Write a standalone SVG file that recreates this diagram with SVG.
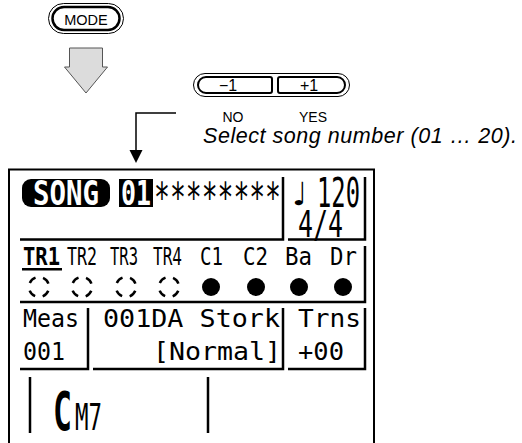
<svg xmlns="http://www.w3.org/2000/svg" width="522" height="443" viewBox="0 0 522 443">
<style>
.sans{font-family:"Liberation Sans",Arial,sans-serif;fill:#000}
.lcd{font-family:"DejaVu Sans Mono","Liberation Mono",monospace;fill:#000}
.inv{fill:#fff;font-weight:bold}
.box{fill:none;stroke:#000;stroke-width:2.5}
.hol{fill:none;stroke:#000;stroke-width:2.5;stroke-dasharray:8 7.71;stroke-dashoffset:11.86}
.ful{fill:#000}
</style>
<rect width="522" height="443" fill="#fff"/>
<g id="connectors">
<path d="M69.5,48 H102.5 V67 H107.5 L86,93 L64.5,67 H69.5 Z" fill="#dcdcdc" stroke="#555" stroke-width="1"/>
<path d="M176,113 H136 V151" fill="none" stroke="#000" stroke-width="1.5"/>
<polygon points="129.5,150 142.5,150 136,163" fill="#000"/>
</g>
<g id="mode-button">
<rect x="48.5" y="3.5" width="75" height="30" rx="15" fill="none" stroke="#000" stroke-width="1"/>
<rect x="52.5" y="7" width="67" height="23" rx="11.5" fill="none" stroke="#000" stroke-width="2.5"/>
<text class="sans" x="86" y="25" font-size="14.5" text-anchor="middle">MODE</text>
</g>
<g id="inc-dec-buttons">
<rect x="193.5" y="73.5" width="156" height="23" rx="11.5" fill="none" stroke="#000" stroke-width="1"/>
<path d="M206,77 H270 Q272,77 272,79 V91 Q272,93 270,93 H206 A8,8 0 0 1 206,77 Z" fill="none" stroke="#000" stroke-width="2"/>
<path d="M280,77 H337 A8,8 0 0 1 337,93 H280 Q278,93 278,91 V79 Q278,77 280,77 Z" fill="none" stroke="#000" stroke-width="2"/>
<text class="sans" x="228" y="91" font-size="16" text-anchor="middle">−1</text>
<text class="sans" x="309" y="91" font-size="16" text-anchor="middle">+1</text>
<text class="sans" x="233" y="122" font-size="14" text-anchor="middle">NO</text>
<text class="sans" x="313" y="122" font-size="14" text-anchor="middle">YES</text>
</g>
<g id="caption">
<text class="sans" x="203" y="143" font-size="21.5" font-style="italic" textLength="314" lengthAdjust="spacing">Select song number (01 … 20).</text>
</g>
<g id="lcd">
<path d="M9,445 V169.5 H374 V445" fill="none" stroke="#000" stroke-width="2"/>
<rect x="22" y="179" width="88" height="28" rx="9" fill="#000"/>
<text class="lcd inv" x="33" y="205" font-size="33" textLength="66" lengthAdjust="spacingAndGlyphs">SONG</text>
<rect x="119" y="179" width="34" height="28" fill="#000"/>
<text class="lcd inv" x="121" y="205" font-size="33" textLength="30" lengthAdjust="spacingAndGlyphs">01</text>
<text class="lcd" x="154" y="212" font-size="40" textLength="127" lengthAdjust="spacingAndGlyphs">********</text>
<text x="292" y="205" font-size="32" font-family="DejaVu Sans,sans-serif">♩</text>
<text class="lcd" x="317" y="207" font-size="40" textLength="43" lengthAdjust="spacingAndGlyphs">120</text>
<text class="lcd" x="298" y="237" font-size="37" textLength="45" lengthAdjust="spacingAndGlyphs">4/4</text>
<path class="box" d="M20,239.5 H283 V177 M288,239.5 H365 V177"/>
<text class="lcd" x="23" y="265" font-size="24" font-weight="bold" textLength="37" lengthAdjust="spacingAndGlyphs">TR1</text>
<text class="lcd" x="67" y="265" font-size="24" textLength="30" lengthAdjust="spacingAndGlyphs">TR2</text>
<text class="lcd" x="110" y="265" font-size="24" textLength="28" lengthAdjust="spacingAndGlyphs">TR3</text>
<text class="lcd" x="153" y="265" font-size="24" textLength="29" lengthAdjust="spacingAndGlyphs">TR4</text>
<text class="lcd" x="200" y="265" font-size="24" textLength="23" lengthAdjust="spacingAndGlyphs">C1</text>
<text class="lcd" x="243" y="265" font-size="24" textLength="25" lengthAdjust="spacingAndGlyphs">C2</text>
<text class="lcd" x="285" y="265" font-size="24" textLength="27" lengthAdjust="spacingAndGlyphs">Ba</text>
<text class="lcd" x="330" y="265" font-size="24" textLength="27" lengthAdjust="spacingAndGlyphs">Dr</text>
<rect x="22" y="268" width="40" height="2.5" fill="#000"/>
<circle class="hol" cx="39" cy="287" r="10"/>
<circle class="hol" cx="82" cy="287" r="10"/>
<circle class="hol" cx="126" cy="287" r="10"/>
<circle class="hol" cx="169" cy="287" r="10"/>
<circle class="ful" cx="211" cy="287" r="9"/>
<circle class="ful" cx="256" cy="287" r="9"/>
<circle class="ful" cx="299" cy="287" r="9"/>
<circle class="ful" cx="343" cy="287" r="9"/>
<path class="box" d="M20,302 H365 V246"/>
<text class="lcd" x="23" y="327" font-size="24" textLength="56" lengthAdjust="spacingAndGlyphs">Meas</text>
<text class="lcd" x="23" y="360" font-size="24" textLength="42" lengthAdjust="spacingAndGlyphs">001</text>
<text class="lcd" x="103" y="327" font-size="24" textLength="177" lengthAdjust="spacingAndGlyphs">001DA Stork</text>
<text class="lcd" x="153" y="360" font-size="24" textLength="128" lengthAdjust="spacingAndGlyphs">[Normal]</text>
<text class="lcd" x="298" y="327" font-size="24" textLength="63" lengthAdjust="spacingAndGlyphs">Trns</text>
<text class="lcd" x="298" y="360" font-size="24" textLength="46" lengthAdjust="spacingAndGlyphs">+00</text>
<path class="box" d="M20,369 H88 V308 M93,369 H283 V308 M288,369 H365 V308"/>
<path class="box" d="M30,377 V433 M208,377 V433"/>
<text class="lcd" x="53" y="430" font-size="54" font-weight="bold" textLength="19" lengthAdjust="spacingAndGlyphs">C</text>
<text class="lcd" x="75" y="430" font-size="38" textLength="27" lengthAdjust="spacingAndGlyphs">M7</text>
</g>
</svg>
